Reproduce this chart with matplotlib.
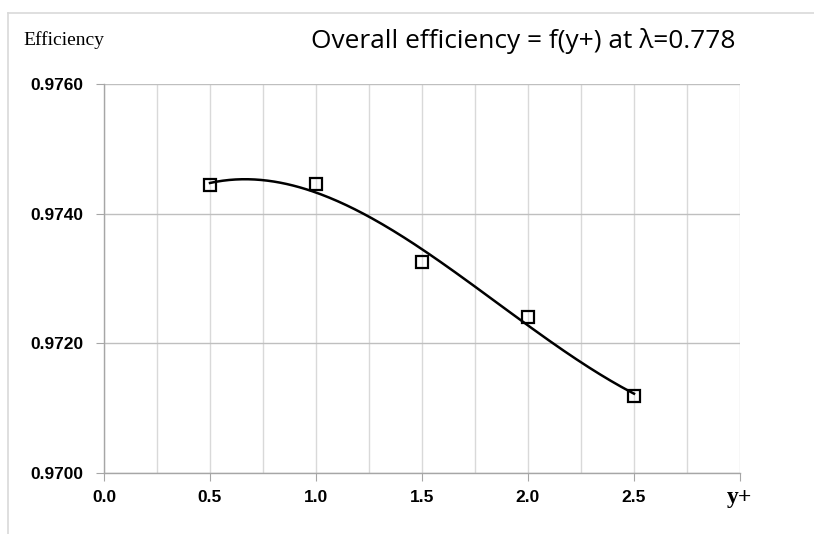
import numpy as np
import matplotlib
matplotlib.use("Agg")
import matplotlib.pyplot as plt
from matplotlib.lines import Line2D
from matplotlib.ticker import MultipleLocator

# Data
yplus = [0.5, 1.0, 1.5, 2.0, 2.5]
efficiency = [0.97444, 0.97446, 0.97325, 0.97241, 0.97119]
x_ticks = [0.0, 0.5, 1.0, 1.5, 2.0, 2.5, 3.0]
x_tick_labels = ["0.0", "0.5", "1.0", "1.5", "2.0", "2.5", ""]
y_ticks = [0.9700, 0.9720, 0.9740, 0.9760]
y_tick_labels = ["0.9700", "0.9720", "0.9740", "0.9760"]
title = "Overall efficiency = f(y+) at \u03bb=0.778"

fig = plt.figure(figsize=(8.14, 5.34), dpi=100)
ax = fig.add_axes([104/814, 61/534, (740-104)/814, (473-84)/534])

# outer chart frame (cropped at right/bottom)
fig.add_artist(Line2D([8/814, 1.0], [1-13/534, 1-13/534], transform=fig.transFigure,
                      color="#d9d9d9", lw=1.2))
fig.add_artist(Line2D([8/814, 8/814], [0.0, 1-13/534], transform=fig.transFigure,
                      color="#d9d9d9", lw=1.2))

ax.set_xlim(0, 3.0)
ax.set_ylim(0.9700, 0.9760)

# gridlines
ax.xaxis.set_minor_locator(MultipleLocator(0.25))
ax.grid(which="minor", axis="x", color="#d9d9d9", lw=1.0)
ax.grid(which="major", axis="x", color="#d9d9d9", lw=1.0)
ax.grid(which="major", axis="y", color="#bfbfbf", lw=1.0)
ax.set_axisbelow(True)

# trendline (cubic polynomial fit)
coef = np.polyfit(yplus, efficiency, 3)
xs = np.linspace(min(yplus), max(yplus), 200)
ax.plot(xs, np.polyval(coef, xs), color="black", lw=1.8, zorder=3)

ax.plot(yplus, efficiency, linestyle="none", marker="s", markersize=9,
        markerfacecolor="none", markeredgecolor="black", markeredgewidth=1.6, zorder=4)

ax.set_xticks(x_ticks)
ax.set_xticklabels(x_tick_labels)
ax.set_yticks(y_ticks)
ax.set_yticklabels(y_tick_labels)

for s in ["top", "right"]:
    ax.spines[s].set_visible(False)
for s in ["left", "bottom"]:
    ax.spines[s].set_color("#a6a6a6")
    ax.spines[s].set_linewidth(1.0)

ax.tick_params(axis="x", which="major", direction="out", length=6, color="#a6a6a6",
               pad=6, labelsize=12.5)
ax.tick_params(axis="x", which="minor", length=0)
ax.tick_params(axis="y", which="major", direction="out", length=6, color="#a6a6a6",
               pad=9, labelsize=12.5)
for lab in ax.get_xticklabels() + ax.get_yticklabels():
    lab.set_fontfamily("Liberation Sans")
    lab.set_fontweight("bold")

fig.text(23/814, 1-40/534, "Efficiency", family="Liberation Serif", fontsize=14,
         va="center", ha="left")
fig.text(740/814, 1-497/534, "y+", family="Liberation Serif", fontsize=17,
         fontweight="bold", va="center", ha="center")
fig.text(311/814, 1-41/534, title, family="Open Sans", fontsize=18.9,
         va="center", ha="left")

fig.savefig("out.png", dpi=100)
